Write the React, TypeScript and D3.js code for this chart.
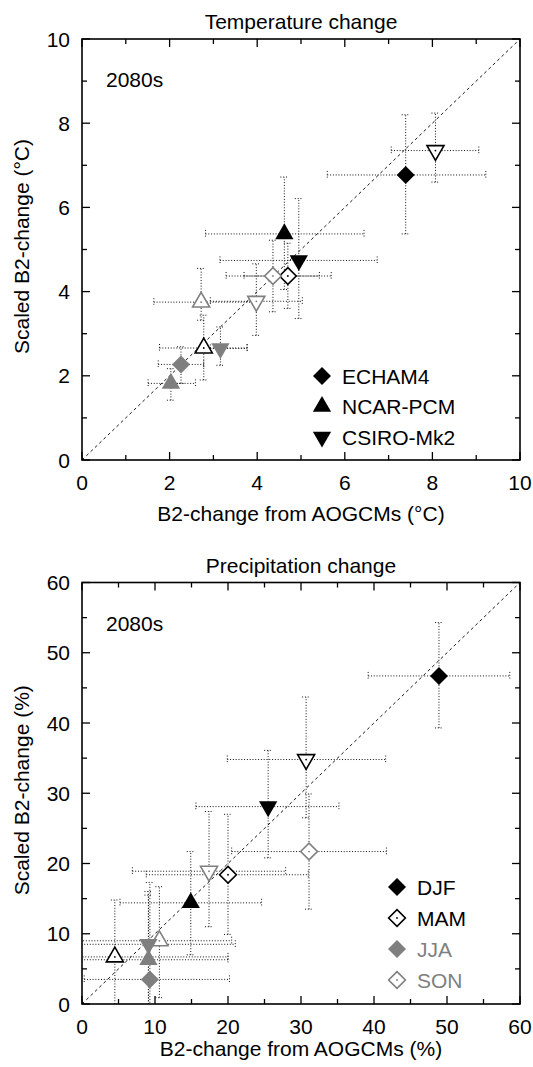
import React from "react";
import * as d3 from "d3";

// ---------- data ----------
const models = ["ECHAM4", "NCAR-PCM", "CSIRO-Mk2"];
const seasons = ["DJF", "MAM", "JJA", "SON"];
// point order: model-major (ECHAM4 DJF, MAM, JJA, SON, NCAR-PCM ..., CSIRO-Mk2 ...)
const pointModel = [0, 0, 0, 0, 1, 1, 1, 1, 2, 2, 2, 2];
const pointSeason = [0, 1, 2, 3, 0, 1, 2, 3, 0, 1, 2, 3];

// Temperature change (°C)
const tempX = [7.39, 4.7, 2.26, 4.36, 4.62, 2.78, 2.03, 2.72, 4.95, 8.07, 3.16, 3.98];
const tempY = [6.77, 4.37, 2.27, 4.37, 5.37, 2.66, 1.82, 3.75, 4.74, 7.35, 2.65, 3.77];
const tempXLo = [5.6, 3.29, 1.74, 3.7, 2.82, 1.77, 1.51, 1.64, 3.15, 7.06, 2.93, 2.93];
const tempXHi = [9.22, 5.69, 2.78, 5.42, 6.44, 3.77, 2.59, 3.9, 6.74, 9.06, 3.77, 5.03];
const tempYLo = [5.37, 3.6, 1.82, 3.52, 4.05, 1.9, 1.42, 3.32, 3.36, 6.6, 2.25, 2.96];
const tempYHi = [8.2, 5.15, 2.69, 5.22, 6.72, 3.44, 2.17, 4.55, 6.21, 8.24, 3.16, 4.66];

// Precipitation change (%)
const precX = [48.9, 20.0, 9.3, 31.1, 14.9, 4.5, 9.1, 10.6, 25.5, 30.7, 9.1, 17.4];
const precY = [46.7, 18.4, 3.5, 21.7, 14.4, 6.7, 6.3, 9.0, 28.1, 34.8, 8.5, 18.9];
const precXLo = [39.2, 8.8, 0.3, 20.5, 5.2, -3, -2, -1, 15.6, 19.9, -2, 6.9];
const precXHi = [58.6, 31.0, 20.2, 41.7, 24.6, 20.0, 20.0, 20.5, 35.2, 41.6, 21.0, 27.9];
const precYLo = [39.3, 9.9, -5, 13.5, 7.0, -2, -2, 0.9, 20.8, 26.5, -2, 11.0];
const precYHi = [54.3, 27.0, 17.3, 29.9, 21.7, 14.8, 15.5, 16.7, 36.1, 43.7, 16.0, 27.4];

const tempTicks = [0, 2, 4, 6, 8, 10];
const precTicks = [0, 10, 20, 30, 40, 50, 60];

// ---------- styling ----------
const FONT = "'Liberation Sans', Arial, Helvetica, sans-serif";
const GREY = "#7f7f7f";
const seasonColor = ["#000", "#000", GREY, GREY];
const seasonFilled = [true, false, true, false];
const FS = 21;

function markerPath(model: number, size = 1): string {
  const p = d3.path();
  if (model === 0) {
    const r = 9 * size;
    p.moveTo(0, -r);
    p.lineTo(r, 0);
    p.lineTo(0, r);
    p.lineTo(-r, 0);
    p.closePath();
    return p.toString();
  }
  const s = 18.3 * size;
  const h = (s * Math.sqrt(3)) / 2;
  const dir = model === 1 ? 1 : -1; // up vs down
  // centroid-centred
  p.moveTo(0, ((-2 * h) / 3) * dir);
  p.lineTo(s / 2, (h / 3) * dir);
  p.lineTo(-s / 2, (h / 3) * dir);
  p.closePath();
  return p.toString();
}

function Marker({ model, season, x, y, size = 1 }: any) {
  const filled = seasonFilled[season];
  const col = seasonColor[season];
  return (
    <g transform={`translate(${x},${y})`}>
      <path
        d={markerPath(model, filled ? size : size * 0.93)}
        fill={filled ? col : "#fff"}
        stroke={col}
        strokeWidth={filled ? 0 : 1.6}
      />
      {!filled && <circle r={0.9} fill={col} />}
    </g>
  );
}

interface PanelProps {
  id: string;
  top: number;
  bottom: number;
  max: number;
  ticks: number[];
  minorStep: number;
  title: string;
  xTitle: string;
  xTitleOffset: number;
  yTitle: string;
  xs: number[];
  ys: number[];
  xLo: number[];
  xHi: number[];
  yLo: number[];
  yHi: number[];
  legend: "model" | "season";
}

const LEFT = 82;
const RIGHT = 520;

function Panel(props: PanelProps) {
  const { id, top, bottom, max, ticks, minorStep, title, xTitle, yTitle } = props;
  const x = d3.scaleLinear().domain([0, max]).range([LEFT, RIGHT]);
  const y = d3.scaleLinear().domain([0, max]).range([bottom, top]);
  const minor = d3.range(0, max + 0.001, minorStep).filter((v) => !ticks.includes(v));
  const cap = 4;
  const dot = "1,1.8";
  const ebColor = "#111";

  const legendItems =
    props.legend === "model"
      ? models.map((m, i) => ({ label: m, model: i, season: 0, color: "#000" }))
      : seasons.map((s, i) => ({ label: s, model: 0, season: i, color: seasonColor[i] }));
  const legendX = props.legend === "model" ? 322 : 397;
  const legendY0 = props.legend === "model" ? 376 : 887;
  const legendStep = props.legend === "model" ? 30.5 : 31;

  return (
    <g fontFamily={FONT}>
      <defs>
        <clipPath id={`clip-${id}`}>
          <rect x={LEFT} y={top} width={RIGHT - LEFT} height={bottom - top} />
        </clipPath>
      </defs>
      <text x={(LEFT + RIGHT) / 2} y={top - 10} textAnchor="middle" fontSize={FS}>
        {title}
      </text>
      {/* error bars */}
      <g clipPath={`url(#clip-${id})`} stroke={ebColor} strokeWidth={1} strokeDasharray={dot} fill="none">
        {props.xs.map((_, i) => {
          const cx = x(props.xs[i]);
          const cy = y(props.ys[i]);
          const x0 = x(props.xLo[i]);
          const x1 = x(props.xHi[i]);
          const y0 = y(props.yLo[i]);
          const y1 = y(props.yHi[i]);
          return (
            <g key={i}>
              <line x1={x0} x2={x1} y1={cy} y2={cy} />
              <line x1={x0} x2={x0} y1={cy - cap} y2={cy + cap} />
              <line x1={x1} x2={x1} y1={cy - cap} y2={cy + cap} />
              <line x1={cx} x2={cx} y1={y0} y2={y1} />
              <line x1={cx - cap} x2={cx + cap} y1={y0} y2={y0} />
              <line x1={cx - cap} x2={cx + cap} y1={y1} y2={y1} />
            </g>
          );
        })}
      </g>
      {/* 1:1 line */}
      <line
        x1={x(0)}
        y1={y(0)}
        x2={x(max)}
        y2={y(max)}
        stroke="#000"
        strokeWidth={0.9}
        strokeDasharray="3,3"
      />
      {/* markers */}
      <g>
        {props.xs.map((_, i) => (
          <Marker
            key={i}
            model={pointModel[i]}
            season={pointSeason[i]}
            x={x(props.xs[i])}
            y={y(props.ys[i])}
          />
        ))}
      </g>
      {/* frame */}
      <rect x={LEFT} y={top} width={RIGHT - LEFT} height={bottom - top} fill="none" stroke="#000" strokeWidth={1.6} />
      {/* ticks */}
      <g stroke="#000" strokeWidth={1.3}>
        {ticks.map((t) => (
          <g key={"M" + t}>
            <line x1={x(t)} x2={x(t)} y1={bottom} y2={bottom - 8} />
            <line x1={x(t)} x2={x(t)} y1={top} y2={top + 8} />
            <line y1={y(t)} y2={y(t)} x1={LEFT} x2={LEFT + 8} />
            <line y1={y(t)} y2={y(t)} x1={RIGHT} x2={RIGHT - 8} />
          </g>
        ))}
        {minor.map((t) => (
          <g key={"m" + t}>
            <line x1={x(t)} x2={x(t)} y1={bottom} y2={bottom - 5} />
            <line x1={x(t)} x2={x(t)} y1={top} y2={top + 5} />
            <line y1={y(t)} y2={y(t)} x1={LEFT} x2={LEFT + 5} />
            <line y1={y(t)} y2={y(t)} x1={RIGHT} x2={RIGHT - 5} />
          </g>
        ))}
      </g>
      {/* tick labels */}
      <g fontSize={FS}>
        {ticks.map((t) => (
          <text key={"xl" + t} x={x(t)} y={bottom + 30} textAnchor="middle">
            {t}
          </text>
        ))}
        {ticks.map((t) => (
          <text key={"yl" + t} x={LEFT - 12} y={y(t) + 7.5} textAnchor="end">
            {t}
          </text>
        ))}
      </g>
      <text x={(LEFT + RIGHT) / 2} y={bottom + props.xTitleOffset} textAnchor="middle" fontSize={FS}>
        {xTitle}
      </text>
      <text
        transform={`translate(${29},${(top + bottom) / 2 - 3}) rotate(-90)`}
        textAnchor="middle"
        fontSize={FS}
      >
        {yTitle}
      </text>
      <text x={106} y={top + 48} fontSize={FS}>
        2080s
      </text>
      {/* legend */}
      {legendItems.map((it, i) => (
        <g key={it.label}>
          <Marker model={it.model} season={it.season} x={legendX} y={legendY0 + i * legendStep} />
          <text x={legendX + 20} y={legendY0 + i * legendStep + 7.5} fontSize={FS} fill={it.color}>
            {it.label}
          </text>
        </g>
      ))}
    </g>
  );
}

export default function App() {
  return (
    <svg
      width={533}
      height={1067}
      style={{ position: "absolute", left: 0, top: 0, background: "#fff" }}
    >
      <rect width={533} height={1067} fill="#fff" />
      <Panel
        id="temp"
        top={39}
        bottom={460}
        max={10}
        ticks={tempTicks}
        minorStep={1}
        title="Temperature change"
        xTitle="B2-change from AOGCMs (°C)"
        xTitleOffset={61}
        yTitle="Scaled B2-change (°C)"
        xs={tempX}
        ys={tempY}
        xLo={tempXLo}
        xHi={tempXHi}
        yLo={tempYLo}
        yHi={tempYHi}
        legend="model"
      />
      <Panel
        id="prec"
        top={582.5}
        bottom={1004}
        max={60}
        ticks={precTicks}
        minorStep={5}
        title="Precipitation change"
        xTitle="B2-change from AOGCMs (%)"
        xTitleOffset={52}
        yTitle="Scaled B2-change (%)"
        xs={precX}
        ys={precY}
        xLo={precXLo}
        xHi={precXHi}
        yLo={precYLo}
        yHi={precYHi}
        legend="season"
      />
    </svg>
  );
}
